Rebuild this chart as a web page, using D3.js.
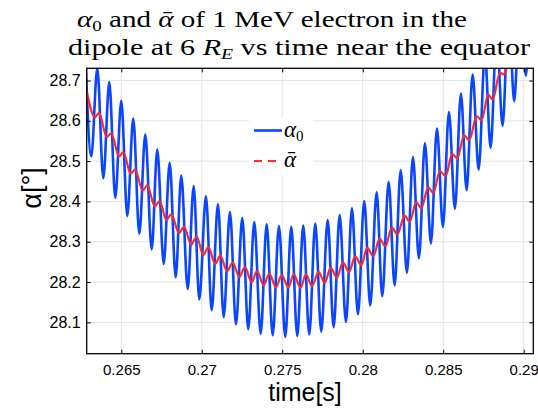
<!DOCTYPE html>
<html>
<head>
<meta charset="utf-8">
<script src="https://cdn.jsdelivr.net/npm/d3@7"></script>
<style>
  body { margin: 0; background: #fff; }
  svg { display: block; }
</style>
</head>
<body>
<svg width="538" height="410"></svg>
<script>
    // extrema of alpha_0 (peak / trough pairs)
    const alpha0Time = [
      0.262764, 0.263137, 0.263509, 0.263882, 0.264255, 0.264627, 0.265000, 0.265373,
      0.265745, 0.266118, 0.266491, 0.266888, 0.267236, 0.267634, 0.268006, 0.268379,
      0.268727, 0.269124, 0.269497, 0.269845, 0.270261, 0.270615, 0.271006, 0.271360,
      0.271752, 0.272124, 0.272516, 0.272888, 0.273261, 0.273659, 0.274031, 0.274404,
      0.274795, 0.275186, 0.275559, 0.275932, 0.276304, 0.276677, 0.277050, 0.277422,
      0.277820, 0.278193, 0.278565, 0.278957, 0.279329, 0.279702, 0.280093, 0.280466,
      0.280863, 0.281211, 0.281609, 0.281981, 0.282354, 0.282745, 0.283118, 0.283491,
      0.283863, 0.284236, 0.284609, 0.284981, 0.285354, 0.285727, 0.286099, 0.286453,
      0.286826, 0.287199, 0.287590, 0.287944, 0.288317, 0.288689, 0.289062, 0.289410,
      0.289783, 0.290137, 0.290510, 0.290880
    ];
    const alpha0Value = [
      28.765, 28.512, 28.731, 28.458, 28.696, 28.409, 28.650, 28.364,
      28.606, 28.320, 28.566, 28.281, 28.529, 28.245, 28.496, 28.212,
      28.464, 28.183, 28.438, 28.157, 28.413, 28.130, 28.393, 28.113,
      28.374, 28.095, 28.359, 28.083, 28.349, 28.072, 28.343, 28.068,
      28.339, 28.064, 28.337, 28.066, 28.340, 28.070, 28.345, 28.077,
      28.354, 28.088, 28.366, 28.101, 28.383, 28.120, 28.401, 28.142,
      28.423, 28.165, 28.448, 28.192, 28.477, 28.223, 28.510, 28.259,
      28.544, 28.296, 28.581, 28.337, 28.622, 28.382, 28.668, 28.428,
      28.715, 28.479, 28.765, 28.533, 28.820, 28.588, 28.874, 28.649,
      28.931, 28.712, 28.990, 28.780
    ];

    // bounce-averaged alpha
    const alphaBarTime = [
      0.262851, 0.263366, 0.263615, 0.264093, 0.264379, 0.264857, 0.265124, 0.265584,
      0.265851, 0.266329, 0.266615, 0.267075, 0.267385, 0.267795, 0.268106, 0.268584,
      0.268894, 0.269348, 0.269683, 0.270093, 0.270404, 0.270839, 0.271149, 0.271565,
      0.271919, 0.272329, 0.272683, 0.273099, 0.273429, 0.273845, 0.274193, 0.274609,
      0.274963, 0.275373, 0.275708, 0.276143, 0.276472, 0.276845, 0.277261, 0.277634,
      0.278006, 0.278398, 0.278770, 0.279143, 0.279534, 0.279907, 0.280280, 0.280652,
      0.281050, 0.281398, 0.281814, 0.282143, 0.282603, 0.282913, 0.283323, 0.283634,
      0.284068, 0.284379, 0.284795, 0.285149, 0.285559, 0.285870, 0.286304, 0.286615,
      0.287075, 0.287385, 0.287795, 0.288068, 0.288522, 0.288789, 0.289267, 0.289516,
      0.290012
    ];
    const alphaBarValue = [
      28.673, 28.609, 28.620, 28.560, 28.569, 28.512, 28.522, 28.469,
      28.479, 28.427, 28.440, 28.388, 28.401, 28.354, 28.368, 28.322,
      28.337, 28.293, 28.313, 28.267, 28.287, 28.245, 28.266, 28.227,
      28.248, 28.213, 28.237, 28.200, 28.227, 28.192, 28.221, 28.187,
      28.217, 28.187, 28.219, 28.186, 28.219, 28.190, 28.225, 28.198,
      28.235, 28.211, 28.249, 28.225, 28.264, 28.242, 28.285, 28.264,
      28.307, 28.289, 28.335, 28.318, 28.365, 28.349, 28.398, 28.383,
      28.435, 28.421, 28.475, 28.463, 28.518, 28.507, 28.564, 28.552,
      28.611, 28.602, 28.665, 28.653, 28.719, 28.715, 28.775, 28.770,
      28.837
    ];

    const xTicks = [0.265, 0.27, 0.275, 0.28, 0.285, 0.29];
    const xTickLabels = ["0.265", "0.27", "0.275", "0.28", "0.285", "0.29"];
    const yTicks = [28.1, 28.2, 28.3, 28.4, 28.5, 28.6, 28.7];
    const yTickLabels = ["28.1", "28.2", "28.3", "28.4", "28.5", "28.6", "28.7"];

    const blue = "#0a46ff";
    const red = "#ff2a2a";

    const svg = d3.select("svg");
    const margin = { top: 68.3, right: 4.7, bottom: 56.3, left: 86.7 };
    const width = +svg.attr("width") - margin.left - margin.right;
    const height = +svg.attr("height") - margin.top - margin.bottom;
    const g = svg.append("g").attr("transform", `translate(${margin.left},${margin.top})`);

    const x = d3.scaleLinear().domain([0.262851, 0.290596]).range([0, width]);
    const y = d3.scaleLinear().domain([28.0222, 28.7304]).range([height, 0]);

    // grid
    g.append("g")
      .selectAll("line")
      .data(xTicks)
      .join("line")
        .attr("x1", d => x(d)).attr("x2", d => x(d))
        .attr("y1", 0).attr("y2", height)
        .attr("stroke", "#e3e3e3").attr("stroke-width", 1);
    g.append("g")
      .selectAll("line")
      .data(yTicks)
      .join("line")
        .attr("x1", 0).attr("x2", width)
        .attr("y1", d => y(d)).attr("y2", d => y(d))
        .attr("stroke", "#e3e3e3").attr("stroke-width", 1);

    svg.append("defs").append("clipPath")
        .attr("id", "plotclip")
      .append("rect")
        .attr("width", width).attr("height", height);

    const line = d3.line()
      .x(d => x(d[0]))
      .y(d => y(d[1]))
      .curve(d3.curveMonotoneX);

    const plot = g.append("g").attr("clip-path", "url(#plotclip)");

    plot.append("path")
      .datum(d3.zip(alpha0Time, alpha0Value))
      .attr("d", line)
      .attr("fill", "none")
      .attr("stroke", blue)
      .attr("stroke-width", 2.6)
      .attr("stroke-linejoin", "round");

    plot.append("path")
      .datum(d3.zip(alphaBarTime, alphaBarValue))
      .attr("d", line)
      .attr("fill", "none")
      .attr("stroke", red)
      .attr("stroke-width", 2.2)
      .attr("stroke-linejoin", "round");

    // axes, ticks inside on all four sides
    const tickLen = 4;
    const xFmt = d => xTickLabels[xTicks.indexOf(d)];
    const yFmt = d => yTickLabels[yTicks.indexOf(d)];

    const xAxis = g.append("g")
      .attr("transform", `translate(0,${height})`)
      .call(d3.axisBottom(x).tickValues(xTicks).tickFormat(xFmt).tickSizeInner(-tickLen).tickSizeOuter(0).tickPadding(11));
    const yAxis = g.append("g")
      .call(d3.axisLeft(y).tickValues(yTicks).tickFormat(yFmt).tickSizeInner(-tickLen).tickSizeOuter(0).tickPadding(6));
    g.append("g")
      .call(d3.axisTop(x).tickValues(xTicks).tickFormat("").tickSizeInner(-tickLen).tickSizeOuter(0));
    g.append("g")
      .attr("transform", `translate(${width},0)`)
      .call(d3.axisRight(y).tickValues(yTicks).tickFormat("").tickSizeInner(-tickLen).tickSizeOuter(0));

    g.selectAll(".domain").remove();
    g.selectAll(".tick line").attr("stroke", "#000").attr("stroke-width", 1);
    xAxis.selectAll("text")
      .style("font-family", "'Liberation Sans', Arial, sans-serif")
      .style("font-size", "15px")
      .attr("fill", "#000");
    yAxis.selectAll("text")
      .style("font-family", "'Liberation Sans', Arial, sans-serif")
      .style("font-size", "16px")
      .attr("fill", "#000");

    g.append("rect")
      .attr("width", width).attr("height", height)
      .attr("fill", "none")
      .attr("stroke", "#000")
      .attr("stroke-width", 1.3);

    // axis labels
    svg.append("text")
      .attr("x", 305)
      .attr("y", 401)
      .attr("text-anchor", "middle")
      .style("font-family", "'Liberation Sans', Arial, sans-serif")
      .style("font-size", "25px")
      .text("time[s]");

    svg.append("text")
      .attr("transform", "translate(41,188) rotate(-90)")
      .attr("text-anchor", "middle")
      .style("font-family", "'Liberation Sans', Arial, sans-serif")
      .style("font-size", "27px")
      .text("α[°]");

    // title
    const serif = "'Liberation Serif', 'DejaVu Serif', serif";
    const t1 = svg.append("text")
      .attr("x", 77).attr("y", 27)
      .style("font-family", serif)
      .style("font-size", "23px");
    t1.append("tspan").style("font-style", "italic").text("α");
    t1.append("tspan").attr("dy", 4).style("font-size", "15px").text("0");
    t1.append("tspan").attr("dy", -4).text(" and ");
    t1.append("tspan").style("font-style", "italic").text("ᾱ");
    t1.append("tspan").text(" of 1 MeV electron in the");
    t1.attr("textLength", 390).attr("lengthAdjust", "spacingAndGlyphs");

    const t2 = svg.append("text")
      .attr("x", 68).attr("y", 55)
      .style("font-family", serif)
      .style("font-size", "23px");
    t2.append("tspan").text("dipole at 6 ");
    t2.append("tspan").style("font-style", "italic").text("R");
    t2.append("tspan").attr("dy", 4).style("font-size", "15px").style("font-style", "italic").text("E");
    t2.append("tspan").attr("dy", -4).text(" vs time near the equator");
    t2.attr("textLength", 462).attr("lengthAdjust", "spacingAndGlyphs");

    // legend
    const legend = svg.append("g");
    legend.append("rect")
      .attr("x", 249).attr("y", 118)
      .attr("width", 64).attr("height", 59)
      .attr("fill", "#fff");
    legend.append("line")
      .attr("x1", 254).attr("x2", 282)
      .attr("y1", 130.5).attr("y2", 130.5)
      .attr("stroke", blue).attr("stroke-width", 2.6);
    legend.append("line")
      .attr("x1", 254).attr("x2", 276)
      .attr("y1", 161).attr("y2", 161)
      .attr("stroke", red).attr("stroke-width", 2.2)
      .attr("stroke-dasharray", "8,6");
    const l1 = legend.append("text")
      .attr("x", 284).attr("y", 137)
      .style("font-family", serif)
      .style("font-size", "23px");
    l1.append("tspan").style("font-style", "italic").text("α");
    l1.append("tspan").attr("dy", 4).style("font-size", "15px").text("0");
    legend.append("text")
      .attr("x", 284).attr("y", 167)
      .style("font-family", serif)
      .style("font-size", "23px")
      .style("font-style", "italic")
      .text("ᾱ");
</script>
</body>
</html>
